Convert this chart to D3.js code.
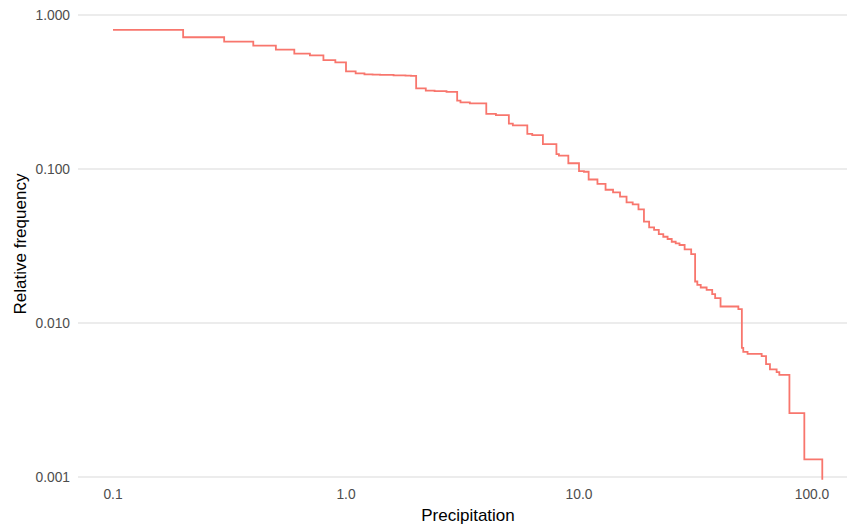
<!DOCTYPE html>
<html>
    <head>
        <title>Precipitation exceedance</title>
        <script src="https://d3js.org/d3.v7.min.js"></script>
        <style>
            body { margin: 0; background: #fff; }
            text { font-family: "Liberation Sans", Arial, sans-serif; }
        </style>
    </head>
    <body>
        <script>
            // step positions (precipitation, relative frequency)
            const precip = [0.1, 0.2, 0.3, 0.4, 0.5, 0.6, 0.7, 0.8, 0.9, 1.0,
                1.1, 1.2, 1.3, 1.4, 1.5, 1.6, 1.7, 1.8, 1.9, 2.0,
                2.2, 2.4, 2.7, 3.0, 3.1, 3.4, 4.0, 4.4, 5.0, 5.2,
                6.0, 6.3, 7.0, 8.0, 8.2, 9.0, 10.0, 10.5, 11.0, 12.0,
                13.0, 14.0, 15.0, 16.0, 17.0, 18.0, 19.0, 20.0, 21.0, 22.0,
                23.0, 24.0, 25.0, 26.0, 27.0, 28.4, 30.3, 31.5, 32.2, 33.3,
                35.3, 37.3, 38.4, 40.5, 48.3, 50.0, 50.7, 52.9, 60.8, 63.5,
                66.0, 70.5, 72.4, 80.0, 92.7, 110.7];
            const freq = [0.80, 0.717, 0.671, 0.632, 0.595, 0.561, 0.547, 0.510, 0.493, 0.431,
                0.418, 0.412, 0.410, 0.409, 0.408, 0.406, 0.405, 0.404, 0.403, 0.334,
                0.323, 0.320, 0.317, 0.278, 0.271, 0.267, 0.228, 0.224, 0.197, 0.192,
                0.169, 0.166, 0.145, 0.125, 0.122, 0.109, 0.097, 0.096, 0.0855, 0.080,
                0.0733, 0.0706, 0.0661, 0.0608, 0.0590, 0.0547, 0.0455, 0.0418, 0.0402, 0.0378,
                0.0363, 0.0351, 0.0337, 0.0329, 0.0321, 0.0301, 0.0280, 0.0186, 0.0177, 0.0170,
                0.0164, 0.0154, 0.0145, 0.0128, 0.0123, 0.0069, 0.0065, 0.0063, 0.0061, 0.0054,
                0.0050, 0.0048, 0.0046, 0.0026, 0.0013, 0.00096];
            const xTicks = [0.1, 1, 10, 100];
            const yTicks = [0.001, 0.01, 0.1, 1];

            const width = 849;
            const height = 527;
            const panel = { left: 78, right: 847, top: 8, bottom: 481 };

            const svg = d3.select("body")
                .append("svg")
                .attr("width", width)
                .attr("height", height);

            const x = d3.scaleLog()
                .domain([0.1, 100])
                .range([113, 812]);

            const y = d3.scaleLog()
                .domain([0.001, 1])
                .range([477, 15]);

            // horizontal grid only
            svg.append("g")
                .selectAll("line")
                .data(yTicks)
                .enter()
                .append("line")
                .attr("x1", panel.left)
                .attr("x2", panel.right)
                .attr("y1", d => y(d))
                .attr("y2", d => y(d))
                .attr("stroke", "#E6E6E6")
                .attr("stroke-width", 1.3);

            svg.append("g")
                .selectAll("text")
                .data(yTicks)
                .enter()
                .append("text")
                .attr("x", 70)
                .attr("y", d => y(d))
                .attr("dy", "0.35em")
                .attr("text-anchor", "end")
                .attr("font-size", 13.8)
                .attr("fill", "#4D4D4D")
                .text(d3.format(".3f"));

            svg.append("g")
                .selectAll("text")
                .data(xTicks)
                .enter()
                .append("text")
                .attr("x", d => x(d))
                .attr("y", 499)
                .attr("text-anchor", "middle")
                .attr("font-size", 13.8)
                .attr("fill", "#4D4D4D")
                .text(d3.format(".1f"));

            const pts = precip.map((p, i) => [p, freq[i]]);

            const line = d3.line()
                .x(d => x(d[0]))
                .y(d => y(d[1]))
                .curve(d3.curveStepAfter);

            svg.append("path")
                .datum(pts)
                .attr("d", line)
                .attr("fill", "none")
                .attr("stroke", "#F8766D")
                .attr("stroke-width", 1.8);

            svg.append("text")
                .attr("x", 468)
                .attr("y", 521)
                .attr("text-anchor", "middle")
                .attr("font-size", 17)
                .attr("fill", "#000")
                .text("Precipitation");

            svg.append("text")
                .attr("transform", "translate(26,244) rotate(-90)")
                .attr("text-anchor", "middle")
                .attr("font-size", 17)
                .attr("fill", "#000")
                .text("Relative frequency");
        </script>
    </body>
</html>
